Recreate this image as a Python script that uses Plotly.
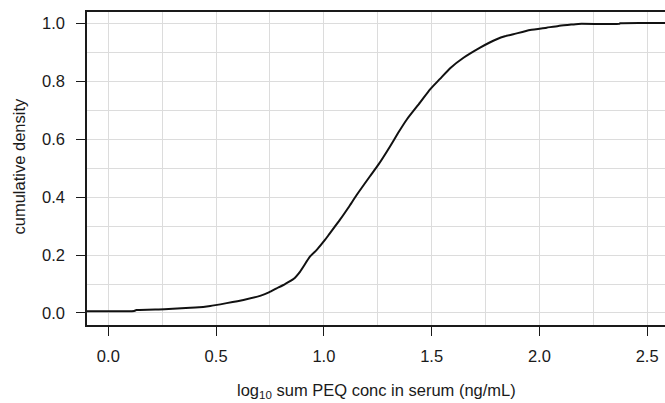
import plotly.graph_objects as go

# ECDF
log_conc = [-0.15, 0.12, 0.13, 0.26, 0.38, 0.44, 0.473, 0.549, 0.627, 0.704, 0.745,
            0.781, 0.82, 0.859, 0.890, 0.936, 0.967, 1.006, 1.026, 1.075, 1.115,
            1.153, 1.214, 1.253, 1.307, 1.345, 1.385, 1.446, 1.493, 1.539, 1.586,
            1.648, 1.725, 1.765, 1.802, 1.840, 1.879, 1.957, 2.034, 2.088, 2.140,
            2.181, 2.37, 2.375, 2.7]
cum_density = [0.006, 0.007, 0.010, 0.013, 0.018, 0.021, 0.024, 0.034, 0.045, 0.059, 0.071,
               0.085, 0.100, 0.117, 0.143, 0.195, 0.218, 0.253, 0.273, 0.322, 0.365,
               0.408, 0.472, 0.512, 0.575, 0.622, 0.668, 0.726, 0.772, 0.808, 0.845,
               0.881, 0.916, 0.932, 0.945, 0.955, 0.962, 0.977, 0.985, 0.991, 0.995,
               0.998, 0.998, 1.0, 1.0]

x_ticks = [0.0, 0.5, 1.0, 1.5, 2.0, 2.5]
x_tick_labels = ["0.0", "0.5", "1.0", "1.5", "2.0", "2.5"]
y_ticks = [0.0, 0.2, 0.4, 0.6, 0.8, 1.0]
y_tick_labels = ["0.0", "0.2", "0.4", "0.6", "0.8", "1.0"]

FONT = "Liberation Sans, Arial, sans-serif"
GRID = "#dcdcdc"
AX = "#1a1a1a"

fig = go.Figure()
fig.add_trace(go.Scatter(x=log_conc, y=cum_density, mode="lines",
                         line=dict(color="#111111", width=2, shape="spline", smoothing=0.5),
                         showlegend=False))

fig.update_layout(
    width=665, height=403,
    margin=dict(l=87, r=0, t=12, b=78),
    paper_bgcolor="white", plot_bgcolor="white",
    font=dict(family=FONT, size=16.5, color="#1a1a1a"),
    xaxis=dict(
        range=[-0.099, 2.583], tickmode="array", tickvals=x_ticks, ticktext=x_tick_labels,
        showgrid=True, gridcolor=GRID, gridwidth=1,
        minor=dict(tick0=0, dtick=0.25, showgrid=True, gridcolor=GRID, gridwidth=1),
        showline=True, linecolor=AX, linewidth=1.5, mirror=True,
        ticks="outside", ticklen=9, tickwidth=1.3, tickcolor=AX,
        zeroline=False, ticklabelstandoff=6,
    ),
    yaxis=dict(
        range=[-0.0415, 1.039], tickmode="array", tickvals=y_ticks, ticktext=y_tick_labels,
        showgrid=True, gridcolor=GRID, gridwidth=1,
        minor=dict(tick0=0, dtick=0.1, showgrid=True, gridcolor=GRID, gridwidth=1),
        showline=True, linecolor=AX, linewidth=1.5,
        ticks="outside", ticklen=9, tickwidth=1.3, tickcolor=AX,
        zeroline=False, ticklabelstandoff=8,
    ),
    annotations=[
        dict(text="log<sub>10</sub> sum PEQ conc in serum (ng/mL)", xref="paper", yref="paper",
             x=0.5, y=-66 / 313, xanchor="center", yanchor="middle", showarrow=False,
             font=dict(family=FONT, size=16.5, color="#1a1a1a")),
        dict(text="cumulative density", xref="paper", yref="paper",
             x=(18.5 - 87) / 578, y=(325 - 167) / 313, xanchor="center", yanchor="middle",
             textangle=-90, showarrow=False,
             font=dict(family=FONT, size=16.5, color="#1a1a1a")),
    ],
)

fig.write_html("out.html")
